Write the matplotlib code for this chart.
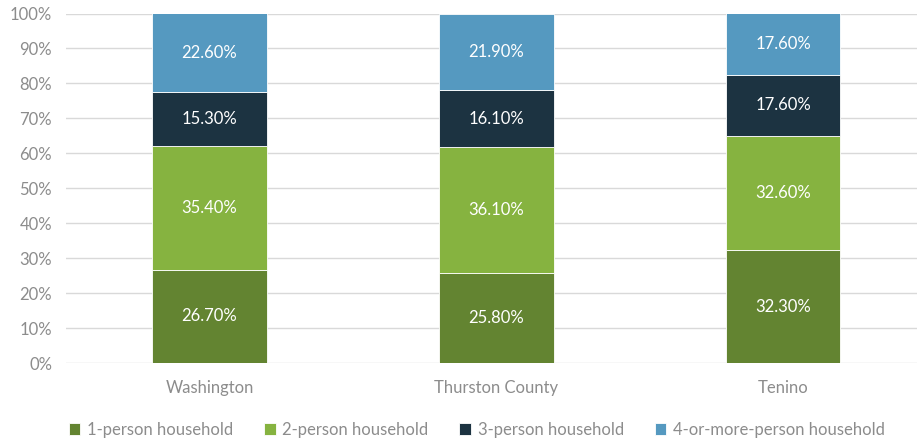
import matplotlib
matplotlib.use("Agg")
import matplotlib.pyplot as plt
from matplotlib.ticker import FuncFormatter
import numpy as np

categories = ["Washington", "Thurston County", "Tenino"]
series_names = ["1-person household", "2-person household", "3-person household", "4-or-more-person household"]
one_person = [26.7, 25.8, 32.3]
two_person = [35.4, 36.1, 32.6]
three_person = [15.3, 16.1, 17.6]
four_plus = [22.6, 21.9, 17.6]
colors = ["#638431", "#86b340", "#1c3341", "#5599c0"]

plt.rcParams['font.family'] = ['Lato', 'DejaVu Sans']

fig = plt.figure(figsize=(9.17, 4.4), dpi=100)
ax = fig.add_axes([66/917, 77/440, 1 - 66/917, (363 - 13.5)/440])

x = np.arange(len(categories))
bottom = np.zeros(len(categories))
width = 0.40
series = [one_person, two_person, three_person, four_plus]
for vals, name, col in zip(series, series_names, colors):
    vals = np.array(vals)
    ax.bar(x, vals, width, bottom=bottom, color=col, label=name, edgecolor='white', linewidth=0.6, zorder=3)
    for xi, b, v in zip(x, bottom, vals):
        ax.text(xi, b + v / 2, f"{v:.2f}%", ha='center', va='center', color='white', fontsize=12, zorder=4)
    bottom = bottom + vals

ax.set_xlim(-0.5004, 2.467)
ax.set_ylim(0, 100)
ax.set_yticks(np.arange(0, 101, 10))
ax.yaxis.set_major_formatter(FuncFormatter(lambda v, p: f"{int(v)}%"))
ax.grid(axis='y', color='#d9d9d9', linewidth=1, zorder=0)
ax.set_xticks(x)
ax.set_xticklabels(categories)
for s in ax.spines.values():
    s.set_visible(False)
ax.tick_params(axis='both', length=0, colors='#8c8c8c', labelsize=12)
ax.tick_params(axis='x', pad=12)
ax.tick_params(axis='y', pad=10)

leg = fig.legend(loc='center', bbox_to_anchor=(0.52, 10/440), ncol=4, frameon=False,
                 fontsize=12, handlelength=0.7, handleheight=0.7, handletextpad=0.4, columnspacing=1.85)
for t in leg.get_texts():
    t.set_color('#8c8c8c')

fig.savefig("out.png", dpi=100)
